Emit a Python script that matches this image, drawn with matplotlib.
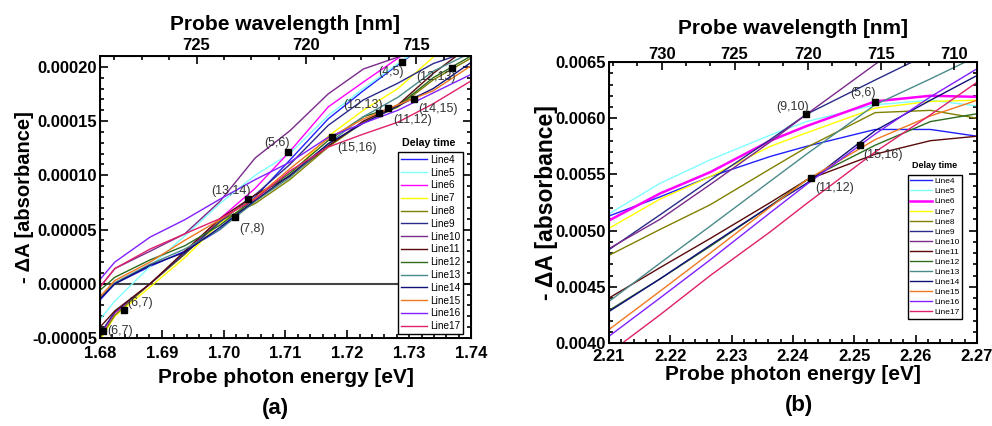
import matplotlib
matplotlib.use("Agg")
import matplotlib.pyplot as plt
from matplotlib.ticker import MultipleLocator, AutoMinorLocator, FormatStrFormatter

plt.rcParams["font.family"] = ["Liberation Sans", "DejaVu Sans"]
plt.rcParams["font.weight"] = "bold"

LINE_NAMES = ["Line4", "Line5", "Line6", "Line7", "Line8", "Line9", "Line10",
              "Line11", "Line12", "Line13", "Line14", "Line15", "Line16", "Line17"]
LINE_COLORS = ["#2020ff", "#80ffff", "#ff00ff", "#ffff00", "#808000", "#2a2a8a", "#7a2a8a",
               "#5a0a0a", "#2e6b1e", "#4a8a8a", "#10107a", "#f07820", "#8020ff", "#e0206a"]

# panel (a): probe energy [eV], -dA in units of 1e-5
energy_a = [1.680, 1.6824, 1.6881, 1.6937, 1.6994, 1.7051, 1.7107, 1.7169, 1.7226, 1.7282, 1.7339, 1.7400]
line4_a = [-1.5, 0.0, 1.6, 3.0, 5.0, 8.0, 11.4, 15.2, 17.8, 20.2, 22.5, 24.5]
line5_a = [-3.3, -1.6, 1.6, 4.4, 7.4, 10.0, 12.0, 15.5, 18.0, 20.3, 22.5, 24.5]
line6_a = [-4.8, -2.7, 0.0, 2.8, 6.0, 8.8, 12.2, 16.3, 18.6, 20.8, 23.0, 25.0]
line7_a = [-5.2, -3.0, -0.3, 2.4, 5.6, 7.6, 10.0, 13.6, 16.0, 18.0, 20.9, 23.0]
line8_a = [-5.0, -2.9, 0.0, 2.7, 5.8, 7.4, 9.6, 12.6, 14.9, 16.3, 18.8, 20.8]
line9_a = [-4.6, -2.6, 0.0, 2.8, 5.7, 8.2, 11.0, 14.6, 16.95, 18.5, 20.3, 21.5]
line10_a = [-0.3, 1.4, 3.0, 4.6, 7.6, 11.6, 14.1, 17.5, 19.8, 20.9, 22.5, 24.0]
line11_a = [-4.0, -2.5, 0.0, 3.0, 6.0, 8.2, 9.9, 12.7, 15.0, 16.5, 19.4, 22.0]
line12_a = [-0.6, 0.6, 2.2, 3.5, 5.4, 7.9, 10.2, 13.2, 15.4, 16.4, 19.0, 21.0]
line13_a = [-1.3, 0.1, 1.8, 3.2, 5.0, 7.6, 9.8, 12.9, 15.4, 17.2, 19.6, 21.3]
line14_a = [-1.4, 0.0, 1.7, 2.9, 5.2, 7.7, 10.0, 12.9, 14.8, 16.4, 18.0, 20.4]
line15_a = [-1.2, 0.3, 2.0, 4.0, 5.9, 7.9, 10.6, 13.4, 15.2, 16.5, 17.8, 20.1]
line16_a = [0.4, 2.0, 4.3, 5.9, 7.8, 9.6, 11.2, 13.5, 14.8, 16.0, 17.6, 19.3]
line17_a = [-0.3, 1.4, 3.2, 4.6, 6.0, 7.8, 10.4, 12.6, 13.8, 14.9, 16.6, 18.7]
series_a = [line4_a, line5_a, line6_a, line7_a, line8_a, line9_a, line10_a,
            line11_a, line12_a, line13_a, line14_a, line15_a, line16_a, line17_a]
scale_a = 1e-5

cross_a_x = [1.7288, 1.7252, 1.7266, 1.7308, 1.7370, 1.7104, 1.7176, 1.7040, 1.7019, 1.6839, 1.6805]
cross_a_y = [20.4, 15.78, 16.18, 17.05, 19.87, 12.19, 13.57, 7.82, 6.2, -2.4, -4.4]
cross_a_text = ["(4,5)", "(12,13)", "(11,12)", "(14,15)", "(12,13)", "(5,6)", "(15,16)",
                "(13,14)", "(7,8)", "(6,7)", "(6,7)"]
cross_a_offset = [(-11, -10), (-16, 8), (24, -12), (24, -10), (-16, -9), (-11, 9), (25, -11),
                  (-17, 8), (17, -12), (16, 7), (17, 0)]

# panel (b): probe energy [eV], -dA in units of 1e-3
energy_b = [2.210, 2.2183, 2.2265, 2.2363, 2.2422, 2.2534, 2.2624, 2.270]
line4_b = [5.13, 5.30, 5.48, 5.66, 5.75, 5.90, 5.90, 5.84]
line5_b = [5.15, 5.42, 5.63, 5.85, 5.97, 6.12, 6.16, 6.11]
line6_b = [5.09, 5.33, 5.52, 5.80, 5.93, 6.15, 6.20, 6.19]
line7_b = [5.02, 5.28, 5.48, 5.75, 5.87, 6.09, 6.15, 6.16]
line8_b = [4.78, 5.01, 5.23, 5.55, 5.74, 6.05, 6.07, 6.00]
line9_b = [4.83, 5.14, 5.45, 5.81, 6.035, 6.34, 6.58, 6.79]
line10_b = [4.84, 5.10, 5.41, 5.79, 6.035, 6.48, 6.83, 7.13]
line11_b = [4.40, 4.67, 4.93, 5.25, 5.45, 5.68, 5.80, 5.84]
line12_b = [4.29, 4.57, 4.86, 5.22, 5.45, 5.76, 5.97, 6.04]
line13_b = [4.37, 4.71, 5.04, 5.44, 5.68, 6.12, 6.35, 6.55]
line14_b = [4.28, 4.57, 4.87, 5.22, 5.42, 5.89, 6.16, 6.38]
line15_b = [4.12, 4.46, 4.80, 5.21, 5.45, 5.81, 6.02, 6.16]
line16_b = [4.06, 4.40, 4.74, 5.16, 5.41, 5.86, 6.19, 6.44]
line17_b = [3.91, 4.25, 4.60, 4.99, 5.24, 5.70, 6.03, 6.32]
series_b = [line4_b, line5_b, line6_b, line7_b, line8_b, line9_b, line10_b,
            line11_b, line12_b, line13_b, line14_b, line15_b, line16_b, line17_b]
scale_b = 1e-3

cross_b_x = [2.2422, 2.2534, 2.2510, 2.2429]
cross_b_y = [6.035, 6.147, 5.762, 5.471]
cross_b_text = ["(9,10)", "(5,6)", "(15,16)", "(11,12)"]
cross_b_offset = [(-14, 7), (-12, 9), (23, -10), (24, -10)]


def style_axes(ax, xlim, ylim, ystep, yfmt, wl_lim, wl_minor, pads):
    bottom_pad, top_pad, xlab_pad, toplab_pad = pads
    ax.set_xlim(*xlim)
    ax.set_ylim(*ylim)
    ax.xaxis.set_major_locator(MultipleLocator(0.01))
    ax.xaxis.set_major_formatter(FormatStrFormatter("%.2f"))
    ax.xaxis.set_minor_locator(AutoMinorLocator(5))
    ax.yaxis.set_major_locator(MultipleLocator(ystep))
    ax.yaxis.set_major_formatter(FormatStrFormatter(yfmt))
    ax.yaxis.set_minor_locator(AutoMinorLocator(5))
    ax.tick_params(which="both", direction="in", right=True, top=False, width=1.2, labelsize=12)
    ax.tick_params(which="major", length=6)
    ax.tick_params(which="minor", length=3)
    ax.tick_params(axis="x", pad=bottom_pad)
    ax.tick_params(axis="y", pad=2)
    for s in ax.spines.values():
        s.set_linewidth(1.4)

    top = ax.twiny()
    top.set_xlim(*wl_lim)
    top.xaxis.set_major_locator(MultipleLocator(5))
    top.xaxis.set_minor_locator(AutoMinorLocator(wl_minor))
    top.tick_params(which="both", direction="in", width=1.2, labelsize=12, pad=top_pad)
    top.tick_params(which="major", length=6)
    top.tick_params(which="minor", length=3)
    top.set_xlabel("Probe wavelength [nm]", fontsize=15, fontweight="bold", labelpad=toplab_pad)
    ax.set_xlabel("Probe photon energy [eV]", fontsize=15, fontweight="bold", labelpad=xlab_pad)
    return top


def draw_panel(ax, energy, series, scale, lw_list, leg_pos, leg_font, leg_spacing, title_pos):
    for name, color, values, lw in zip(LINE_NAMES, LINE_COLORS, series, lw_list):
        ax.plot(energy, [v * scale for v in values], color=color, lw=lw, label=name)
    leg = ax.legend(loc="upper left", bbox_to_anchor=leg_pos, borderaxespad=0,
                    prop={"size": leg_font, "weight": "normal"}, frameon=True, fancybox=False,
                    edgecolor="black", framealpha=1, handlelength=2.6, handletextpad=0.3,
                    borderpad=0.3, labelspacing=leg_spacing)
    leg.get_frame().set_linewidth(1.0)
    ax.text(title_pos[0], title_pos[1], "Delay time", transform=ax.transAxes,
            ha="center", va="center", fontsize=leg_font + 0.5, fontweight="bold")


def mark_crossings(ax, xs, ys, texts, offsets, scale):
    ax.plot(xs, [y * scale for y in ys], "s", color="black", ms=5, zorder=5)
    for x, y, t, off in zip(xs, ys, texts, offsets):
        ax.annotate(t, (x, y * scale), xytext=off, textcoords="offset pixels",
                    ha="center", va="center", fontsize=9, fontweight="normal",
                    color="#333333", zorder=6)


fig = plt.figure(figsize=(9.92, 4.26), dpi=100)

ax_a = fig.add_axes([0.1008, 0.2066, 0.3740, 0.6620])
ax_a.axhline(0, color="#444444", lw=1.5, zorder=1)
draw_panel(ax_a, energy_a, series_a, scale_a, [1.0] * 14, (0.803, 0.66), 7.2, 0.28, (0.885, 0.69))
mark_crossings(ax_a, cross_a_x, cross_a_y, cross_a_text, cross_a_offset, scale_a)
style_axes(ax_a, (1.68, 1.74), (-0.00005, 0.00021), 0.00005, "%.5f", (729.4, 712.5), 4,
           (5.5, 2.0, 5.6, 6.2))
ax_a.set_ylabel("- ΔA [absorbance]", fontsize=14.5, fontweight="bold", labelpad=-1)

ax_b = fig.add_axes([0.6139, 0.1948, 0.3710, 0.6596])
lw_b = [1.0, 1.0, 1.8, 1.0, 1.0, 1.0, 1.0, 1.0, 1.0, 1.0, 1.0, 1.0, 1.0, 1.0]
draw_panel(ax_b, energy_b, series_b, scale_b, lw_b, (0.812, 0.598), 6.0, 0.27, (0.885, 0.63))
mark_crossings(ax_b, cross_b_x, cross_b_y, cross_b_text, cross_b_offset, scale_b)
style_axes(ax_b, (2.21, 2.27), (0.004, 0.0065), 0.0005, "%.4f", (733.6, 708.4), 3,
           (4.2, 0.3, 0.6, 9.4))
ax_b.set_ylabel("- ΔA [absorbance]", fontsize=16.5, fontweight="bold", labelpad=-2)

fig.text(0.2772, 0.040, "(a)", ha="center", va="center", fontsize=16, fontweight="bold")
fig.text(0.8054, 0.049, "(b)", ha="center", va="center", fontsize=16, fontweight="bold")

fig.savefig("out.png", dpi=100)
